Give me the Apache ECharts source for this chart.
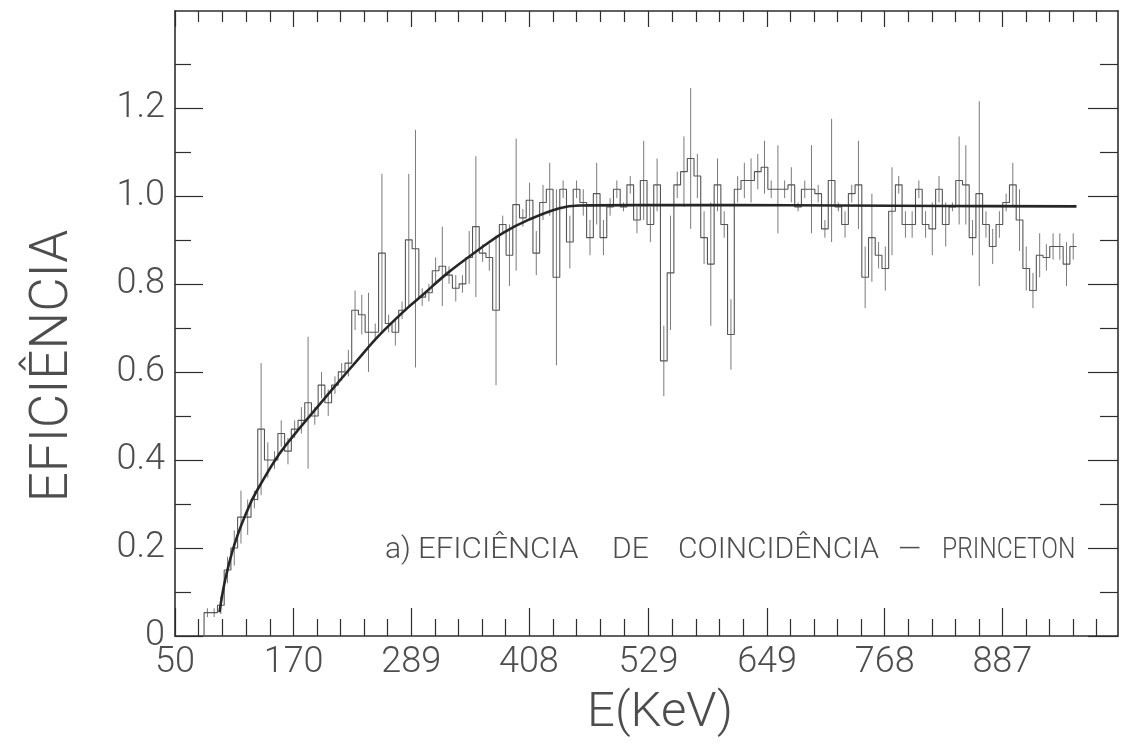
<!DOCTYPE html>
<html>
<head>
<meta charset="utf-8">
<script src="https://cdn.jsdelivr.net/npm/echarts@6/dist/echarts.min.js"></script>
<style>
  html, body { margin: 0; padding: 0; background: #ffffff; }
  #chart { width: 1142px; height: 749px; }
</style>
</head>
<body>
<div id="chart"></div>
<script>
// Coincidence efficiency (Princeton) versus gamma energy.
// Histogram bins on a regular energy grid, each with an efficiency and its error.
const binStartKeV = 79.4;
const binWidthKeV = 6.79;

const effValues = [
  0.053, 0.053, 0.07, 0.15, 0.20, 0.27, 0.27, 0.31, 0.47, 0.40,
  0.40, 0.46, 0.42, 0.47, 0.49, 0.53, 0.50, 0.57, 0.53, 0.57,
  0.60, 0.62, 0.74, 0.73, 0.69, 0.69, 0.87, 0.71, 0.69, 0.74,
  0.90, 0.88, 0.77, 0.78, 0.83, 0.84, 0.82, 0.79, 0.80, 0.86,
  0.93, 0.87, 0.86, 0.74, 0.935, 0.865, 0.98, 0.95, 0.99, 0.87,
  0.985, 1.015, 0.815, 1.015, 0.895, 1.015, 0.985, 0.905, 1.005, 0.905,
  0.975, 1.015, 0.975, 1.025, 0.945, 1.035, 0.935, 1.025, 0.625, 0.825,
  1.025, 1.055, 1.085, 1.045, 0.905, 0.845, 1.025, 0.935, 0.685, 1.015,
  1.035, 1.035, 1.055, 1.065, 1.015, 1.015, 1.015, 1.025, 0.975, 1.015,
  1.015, 1.005, 0.925, 1.035, 0.975, 0.935, 1.005, 1.025, 0.815, 0.905,
  0.865, 0.835, 0.965, 1.025, 0.935, 0.935, 1.015, 0.935, 0.925, 1.015,
  0.935, 0.975, 1.035, 1.025, 0.905, 1.005, 0.935, 0.885, 0.935, 0.985,
  1.025, 0.945, 0.835, 0.785, 0.865, 0.86, 0.885, 0.885, 0.845, 0.885
];

const effErrors = [
  0.01, 0.01, 0.02, 0.03, 0.04, 0.06, 0.04, 0.02, 0.15, 0.04,
  0.02, 0.03, 0.03, 0.02, 0.03, 0.15, 0.02, 0.03, 0.03, 0.02,
  0.02, 0.03, 0.045, 0.045, 0.09, 0.02, 0.18, 0.02, 0.03, 0.02,
  0.15, 0.27, 0.02, 0.02, 0.03, 0.09, 0.02, 0.03, 0.02, 0.06,
  0.16, 0.02, 0.03, 0.17, 0.02, 0.07, 0.15, 0.02, 0.04, 0.05,
  0.04, 0.06, 0.20, 0.02, 0.06, 0.02, 0.03, 0.04, 0.07, 0.04,
  0.02, 0.02, 0.01, 0.02, 0.03, 0.09, 0.04, 0.06, 0.08, 0.13,
  0.03, 0.08, 0.16, 0.05, 0.06, 0.14, 0.06, 0.03, 0.08, 0.03,
  0.04, 0.05, 0.04, 0.06, 0.02, 0.10, 0.02, 0.04, 0.01, 0.02,
  0.10, 0.02, 0.02, 0.14, 0.01, 0.03, 0.02, 0.10, 0.07, 0.10,
  0.03, 0.05, 0.10, 0.02, 0.03, 0.03, 0.02, 0.03, 0.06, 0.03,
  0.05, 0.01, 0.10, 0.09, 0.04, 0.21, 0.03, 0.04, 0.03, 0.02,
  0.05, 0.07, 0.05, 0.04, 0.05, 0.03, 0.03, 0.03, 0.05, 0.03
];

// Fitted efficiency curve
const fitEnergy = [95, 101, 111, 126, 138, 156, 176, 195, 215, 235, 256, 285,
  299, 326, 355, 382, 408, 439, 459, 516, 620, 725, 829, 962];
const fitEfficiency = [0.054, 0.13, 0.214, 0.30, 0.35, 0.415, 0.472, 0.523, 0.576,
  0.628, 0.682, 0.745, 0.772, 0.825, 0.874, 0.916, 0.946, 0.972, 0.978, 0.979,
  0.979, 0.978, 0.977, 0.976];

// Axis ticks
const xTickValues = [50, 170, 289, 408, 529, 649, 768, 887];
const xTickLabels = ['50', '170', '289', '408', '529', '649', '768', '887'];
const yTickValues = [0, 0.2, 0.4, 0.6, 0.8, 1.0, 1.2];
const yTickLabels = ['0', '0.2', '0.4', '0.6', '0.8', '1.0', '1.2'];

const X_MIN = 50, X_MAX = 1004, Y_MIN = 0, Y_MAX = 1.42;
const INK = '#2e2e2e';
const TEXT = '#4d4d4d';
const FONT = 'Roboto';

// Minor ticks: five sub-intervals between labelled ticks, continued past the last one
const xMinor = [];
for (let i = 0; i < xTickValues.length - 1; i++) {
  const a = xTickValues[i], b = xTickValues[i + 1];
  for (let k = 1; k < 5; k++) xMinor.push(a + (b - a) * k / 5);
}
{
  const n = xTickValues.length;
  const step = (xTickValues[n - 1] - xTickValues[n - 2]) / 5;
  for (let v = xTickValues[n - 1] + step; v < X_MAX - 4; v += step) xMinor.push(v);
}
const yMinor = yTickValues.map(v => +(v + 0.1).toFixed(2));

// Histogram outline (step) and error bars built from the bins
const binEdges = effValues.map((_, i) => binStartKeV + i * binWidthKeV);
const stepData = [[binEdges[0], 0]];
effValues.forEach((v, i) => stepData.push([binEdges[i], v]));
stepData.push([binStartKeV + effValues.length * binWidthKeV, effValues[effValues.length - 1]]);
const errData = effValues.map((v, i) => [binEdges[i] + binWidthKeV / 2, v - effErrors[i], v + effErrors[i]]);
const fitData = fitEnergy.map((e, i) => [e, fitEfficiency[i]]);

function xAxisDef(position, ticks, len, withLine, withLabel) {
  return {
    type: 'value', position, min: X_MIN, max: X_MAX,
    axisLine: { show: withLine, onZero: false, lineStyle: { color: INK, width: 1.6 } },
    axisTick: { show: true, inside: true, length: len, customValues: ticks,
      lineStyle: { color: INK, width: 1.2 } },
    axisLabel: withLabel ? {
      show: true, customValues: ticks, margin: 9,
      formatter: v => xTickLabels[xTickValues.indexOf(v)] ?? '',
      color: TEXT, fontFamily: FONT, fontWeight: 300, fontSize: 36
    } : { show: false },
    splitLine: { show: false }
  };
}
function yAxisDef(position, ticks, len, withLine, withLabel) {
  return {
    type: 'value', position, min: Y_MIN, max: Y_MAX,
    axisLine: { show: withLine, onZero: false, lineStyle: { color: INK, width: 1.6 } },
    axisTick: { show: true, inside: true, length: len, customValues: ticks,
      lineStyle: { color: INK, width: 1.2 } },
    axisLabel: withLabel ? {
      show: true, customValues: ticks, margin: 10,
      formatter: v => yTickLabels[yTickValues.findIndex(t => Math.abs(t - v) < 1e-6)] ?? '',
      color: TEXT, fontFamily: FONT, fontWeight: 300, fontSize: 36
    } : { show: false },
    splitLine: { show: false }
  };
}

const chart = echarts.init(document.getElementById('chart'), null, { renderer: 'canvas' });

const noteFont = '300 30px Roboto';
const note = (text, x, sx) => ({
  type: 'text', x, y: 550, scaleX: sx || 1,
  style: { text, fill: TEXT, font: noteFont, verticalAlign: 'middle' }
});
chart.setOption({
  backgroundColor: '#ffffff',
  animation: false,
  grid: { left: 175, right: 24, top: 11, bottom: 113, outerBoundsMode: 'none' },
  xAxis: [
    xAxisDef('bottom', xTickValues, 28, true, true),
    xAxisDef('bottom', xMinor, 17, false, false),
    xAxisDef('top', xTickValues, 16, true, false),
    xAxisDef('top', xMinor, 11, false, false)
  ],
  yAxis: [
    yAxisDef('left', yTickValues, 28, true, true),
    yAxisDef('left', yMinor, 16, false, false),
    yAxisDef('right', yTickValues, 30, true, false),
    yAxisDef('right', yMinor, 18, false, false)
  ],
  series: [
    {
      name: 'histogram', type: 'line', step: 'end', data: stepData,
      xAxisIndex: 0, yAxisIndex: 0, symbol: 'none',
      lineStyle: { color: '#555555', width: 1.1 }, z: 2
    },
    {
      name: 'errors', type: 'custom', data: errData,
      xAxisIndex: 0, yAxisIndex: 0,
      encode: { x: 0, y: [1, 2] },
      renderItem: (params, api) => {
        const p1 = api.coord([api.value(0), api.value(1)]);
        const p2 = api.coord([api.value(0), api.value(2)]);
        return {
          type: 'line',
          shape: { x1: p1[0], y1: p1[1], x2: p2[0], y2: p2[1] },
          style: { stroke: '#7a7a7a', lineWidth: 1 }
        };
      },
      z: 2
    },
    {
      name: 'fit', type: 'line', data: fitData, smooth: 0.4,
      xAxisIndex: 0, yAxisIndex: 0, symbol: 'none',
      lineStyle: { color: '#262626', width: 2.6 }, z: 3
    }
  ],
  graphic: [
    { type: 'text', x: 54, y: 366, rotation: Math.PI / 2,
      style: { text: 'EFICIÊNCIA', fill: TEXT, font: '300 53px Roboto', align: 'center', verticalAlign: 'middle' } },
    { type: 'text', x: 660, y: 714,
      style: { text: 'E(KeV)', fill: TEXT, font: '300 49px Roboto', align: 'center', verticalAlign: 'middle' } },
    note('a)', 385),
    note('EFICIÊNCIA', 418, 1.04),
    note('DE', 612),
    note('COINCIDÊNCIA', 678),
    note('—', 898),
    note('PRINCETON', 942, 0.82)
  ]
});
</script>
</body>
</html>
